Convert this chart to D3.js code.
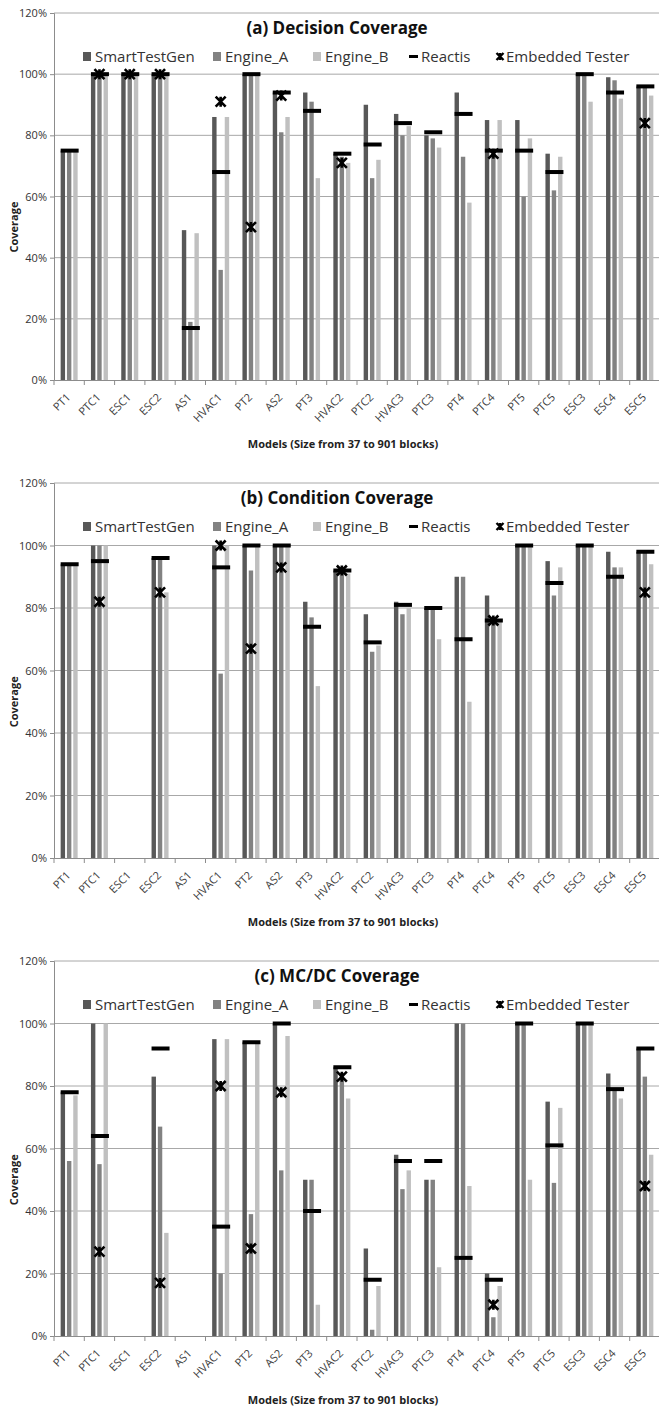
<!DOCTYPE html>
<html>
<head>
<meta charset="utf-8">
<script src="https://cdn.jsdelivr.net/npm/d3@7"></script>
<style>
  body { margin: 0; background: #fff; }
  text { font-family: "Open Sans", sans-serif; }
</style>
</head>
<body>
<div id="chart"></div>
<script>
const width = 659;
const height = 1408;

// Models on the x axis
const models = ["PT1", "PTC1", "ESC1", "ESC2", "AS1", "HVAC1", "PT2", "AS2", "PT3", "HVAC2",
  "PTC2", "HVAC3", "PTC3", "PT4", "PTC4", "PT5", "PTC5", "ESC3", "ESC4", "ESC5"];

const barSeries = ["SmartTestGen", "Engine_A", "Engine_B"];
const yTicks = [0, 20, 40, 60, 80, 100, 120];

// (a) Decision coverage, percent
const decisionSmart   = [75, 100, 100, 100, 49, 86, 100, 94, 94, 74, 90, 87, 80, 94, 85, 85, 74, 100, 99, 96];
const decisionEngineA = [75, 100, 100, 100, 19, 36, 100, 81, 91, 73, 66, 80, 79, 73, 75, 60, 62, 100, 98, 96];
const decisionEngineB = [75, 100, 100, 100, 48, 86, 100, 86, 66, 71, 72, 83, 76, 58, 85, 79, 73, 91, 92, 93];
const decisionReactis = [75, 100, 100, 100, 17, 68, 100, 94, 88, 74, 77, 84, 81, 87, 75, 75, 68, 100, 94, 96];
const decisionEmbedded = [null, 100, 100, 100, null, 91, 50, 93, null, 71, null, null, null, null, 74, null, null, null, null, 84];

// (b) Condition coverage
const conditionSmart   = [94, 100, null, 96, null, 100, 100, 100, 82, 92, 78, 82, 80, 90, 84, 100, 95, 100, 98, 98];
const conditionEngineA = [94, 100, null, 96, null, 59, 92, 100, 77, 92, 66, 78, 80, 90, 76, 100, 84, 100, 93, 98];
const conditionEngineB = [94, 100, null, 85, null, 100, 100, 100, 55, 91, 68, 80, 70, 50, 76, 100, 93, 100, 93, 94];
const conditionReactis = [94, 95, null, 96, null, 93, 100, 100, 74, 92, 69, 81, 80, 70, 76, 100, 88, 100, 90, 98];
const conditionEmbedded = [null, 82, null, 85, null, 100, 67, 93, null, 92, null, null, null, null, 76, null, null, null, null, 85];

// (c) MC/DC coverage
const mcdcSmart   = [78, 100, null, 83, null, 95, 94, 100, 50, 86, 28, 58, 50, 100, 20, 100, 75, 100, 84, 92];
const mcdcEngineA = [56, 55, null, 67, null, 20, 39, 53, 50, 84, 2, 47, 50, 100, 6, 100, 49, 100, 79, 83];
const mcdcEngineB = [77, 100, null, 33, null, 95, 94, 96, 10, 76, 16, 53, 22, 48, 16, 50, 73, 100, 76, 58];
const mcdcReactis = [78, 64, null, 92, null, 35, 94, 100, 40, 86, 18, 56, 56, 25, 18, 100, 61, 100, 79, 92];
const mcdcEmbedded = [null, 27, null, 17, null, 80, 28, 78, null, 83, null, null, null, null, 10, null, null, null, null, 48];

const panels = [
  { title: "(a)  Decision Coverage", top: 13, bottom: 380,
    bars: [decisionSmart, decisionEngineA, decisionEngineB], reactis: decisionReactis, embedded: decisionEmbedded },
  { title: "(b) Condition Coverage", top: 483, bottom: 858,
    bars: [conditionSmart, conditionEngineA, conditionEngineB], reactis: conditionReactis, embedded: conditionEmbedded },
  { title: "(c) MC/DC Coverage", top: 961, bottom: 1336,
    bars: [mcdcSmart, mcdcEngineA, mcdcEngineB], reactis: mcdcReactis, embedded: mcdcEmbedded }
];

const barColor = d3.scaleOrdinal().domain(barSeries).range(["#585858", "#828282", "#c0c0c0"]);

const svg = d3.select("#chart").append("svg")
  .attr("width", width)
  .attr("height", height);

const x = d3.scaleBand().domain(models).range([54, 660]);
const inner = d3.scaleBand().domain(barSeries).range([0, 17]).paddingInner(0.3);
const groupOffset = (x.bandwidth() - 17) / 2;

// star marker: an x with a vertical stroke
function starPath(cx, cy, r) {
  return `M${cx - r},${cy - r}L${cx + r},${cy + r}M${cx - r},${cy + r}L${cx + r},${cy - r}` +
    `M${cx},${cy - r}L${cx},${cy + r}`;
}

panels.forEach(p => {
  const y = d3.scaleLinear().domain([0, 120]).range([p.bottom, p.top]);
  const g = svg.append("g");

  // gridlines
  g.append("g").selectAll("line")
    .data(yTicks.filter(t => t > 0))
    .join("line")
    .attr("x1", 54).attr("x2", 659)
    .attr("y1", d => y(d)).attr("y2", d => y(d))
    .attr("stroke", "#a8a8a8").attr("stroke-width", 1);

  // y axis
  const yAxis = g.append("g")
    .attr("transform", "translate(54,0)")
    .call(d3.axisLeft(y).tickValues(yTicks).tickFormat(d => d + "%").tickSize(4).tickPadding(3));
  yAxis.select(".domain").attr("stroke", "#8c8c8c");
  yAxis.selectAll(".tick line").attr("stroke", "#8c8c8c");
  yAxis.selectAll(".tick text").attr("font-size", 11).attr("fill", "#333")
    .attr("font-family", "'Open Sans', sans-serif");

  // bars
  p.bars.forEach((vals, si) => {
    g.append("g").selectAll("rect")
      .data(models.map((m, i) => ({ m, v: vals[i] })).filter(d => d.v != null))
      .join("rect")
      .attr("x", d => x(d.m) + groupOffset + inner(barSeries[si]))
      .attr("width", inner.bandwidth())
      .attr("y", d => y(d.v))
      .attr("height", d => y(0) - y(d.v))
      .attr("fill", barColor(barSeries[si]));
  });

  // x axis
  const xAxis = g.append("g")
    .attr("transform", `translate(0,${p.bottom})`)
    .call(d3.axisBottom(x).tickSize(0).tickPadding(0));
  xAxis.select(".domain").attr("stroke", "#8c8c8c");
  xAxis.selectAll(".tick text")
    .attr("font-size", 11).attr("fill", "#404040")
    .attr("font-family", "'Open Sans', sans-serif")
    .attr("text-anchor", "end")
    .attr("x", 0).attr("y", 0).attr("dy", 0)
    .attr("transform", "translate(2,18) rotate(-45)");
  g.append("g").selectAll("line")
    .data(d3.range(models.length + 1))
    .join("line")
    .attr("x1", i => 54 + i * x.step()).attr("x2", i => 54 + i * x.step())
    .attr("y1", p.bottom).attr("y2", p.bottom + 5)
    .attr("stroke", "#8c8c8c");

  // Reactis dashes
  g.append("g").selectAll("rect")
    .data(models.map((m, i) => ({ m, v: p.reactis[i] })).filter(d => d.v != null))
    .join("rect")
    .attr("x", d => x(d.m) + x.bandwidth() / 2 - 8.5)
    .attr("y", d => y(d.v) - 2)
    .attr("width", 18).attr("height", 4)
    .attr("fill", "#000");

  // Embedded Tester stars
  g.append("g").selectAll("path")
    .data(models.map((m, i) => ({ m, v: p.embedded[i] })).filter(d => d.v != null))
    .join("path")
    .attr("d", d => starPath(x(d.m) + x.bandwidth() / 2, y(d.v), 5))
    .attr("stroke", "#000").attr("stroke-width", 2.6).attr("fill", "none");

  // title
  g.append("text")
    .attr("x", 337).attr("y", p.top + 21)
    .attr("text-anchor", "middle")
    .attr("font-size", 17).attr("font-weight", "bold").attr("fill", "#111")
    .text(p.title);

  // legend
  const ly = p.top + 49;
  const legend = g.append("g");
  [["SmartTestGen", 83], ["Engine_A", 213], ["Engine_B", 313]].forEach(([name, lx]) => {
    legend.append("rect").attr("x", lx).attr("y", ly - 10).attr("width", 8).attr("height", 9)
      .attr("fill", barColor(name));
    legend.append("text").attr("x", lx + 12).attr("y", ly).attr("font-size", 15).attr("fill", "#333").text(name);
  });
  legend.append("rect").attr("x", 409).attr("y", ly - 7).attr("width", 9).attr("height", 3).attr("fill", "#000");
  legend.append("text").attr("x", 421).attr("y", ly).attr("font-size", 15).attr("fill", "#333").text("Reactis");
  legend.append("path").attr("d", starPath(500, ly - 5.5, 3.5))
    .attr("stroke", "#000").attr("stroke-width", 2.4).attr("fill", "none");
  legend.append("text").attr("x", 506).attr("y", ly).attr("font-size", 15).attr("fill", "#333").text("Embedded Tester");

  // axis titles
  g.append("text")
    .attr("transform", `translate(18,${y(50)}) rotate(-90)`)
    .attr("text-anchor", "middle")
    .attr("font-size", 11).attr("font-weight", "bold").attr("fill", "#222")
    .text("Coverage");
  g.append("text")
    .attr("x", 343).attr("y", p.bottom + 68)
    .attr("text-anchor", "middle")
    .attr("font-size", 11).attr("font-weight", "bold").attr("fill", "#222")
    .text("Models (Size from 37 to 901 blocks)");
});
</script>
</body>
</html>
